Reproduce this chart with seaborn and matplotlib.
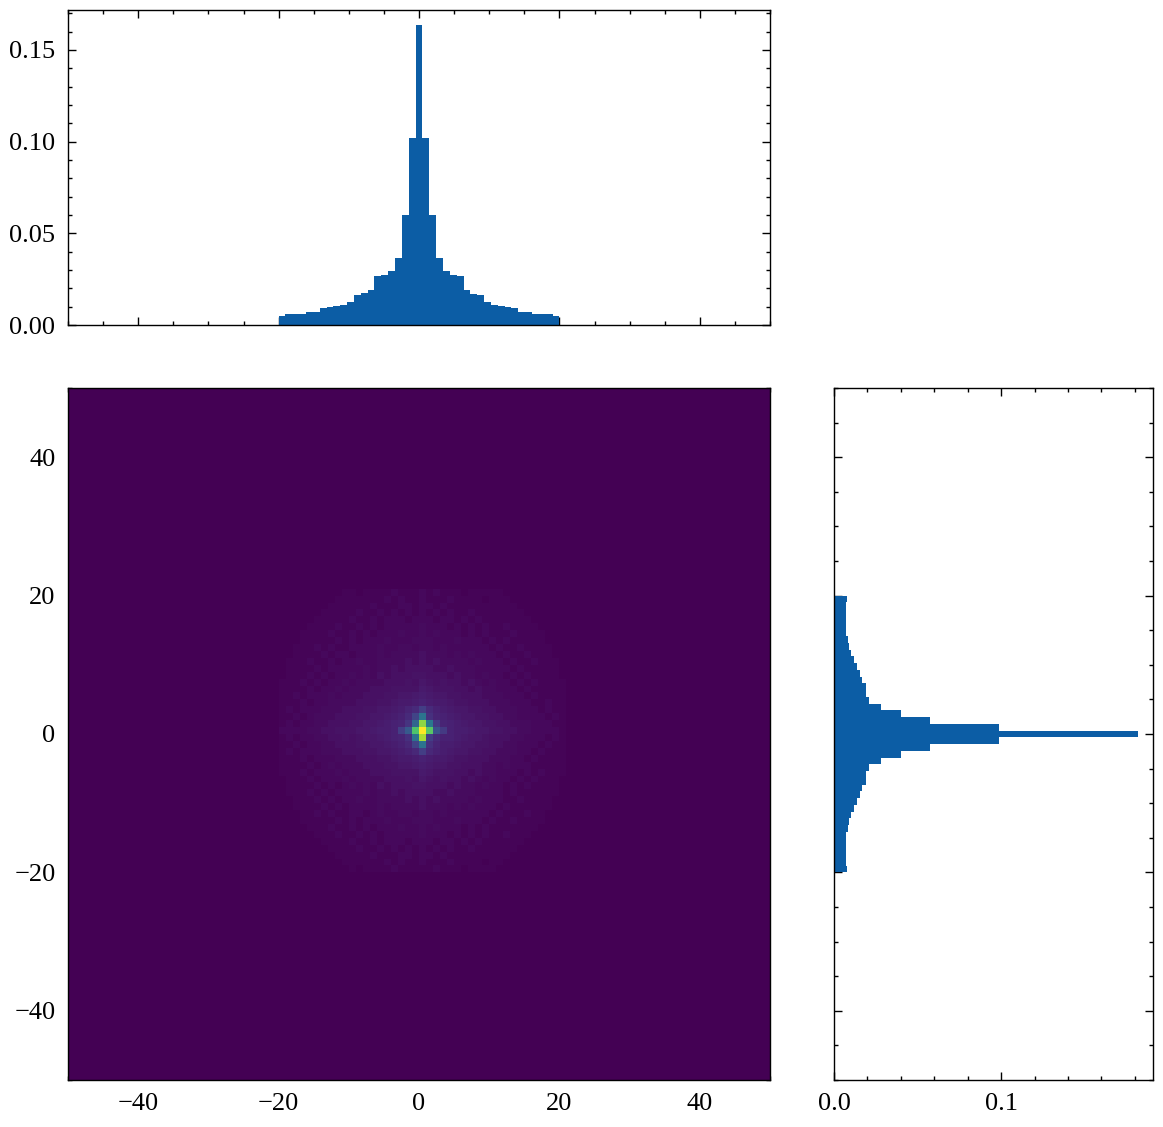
import numpy as np
import matplotlib
matplotlib.use("Agg")
import matplotlib.pyplot as plt
from matplotlib.ticker import MultipleLocator
import seaborn as sns

# integer support of both variables
values = np.arange(-20, 21)

# marginal of x (top histogram), one value per integer -20..20
top_heights = [0.0049, 0.0060, 0.0060, 0.0060, 0.0071, 0.0071, 0.0092, 0.0100, 0.0105, 0.0111,
               0.0125, 0.0163, 0.0174, 0.0190, 0.0266, 0.0272, 0.0293, 0.0364, 0.0598, 0.1022,
               0.1636,
               0.1022, 0.0598, 0.0364, 0.0293, 0.0272, 0.0266, 0.0190, 0.0168, 0.0163, 0.0125,
               0.0109, 0.0103, 0.0098, 0.0092, 0.0071, 0.0071, 0.0060, 0.0060, 0.0060, 0.0049]

# marginal of y (right histogram), -20..20
right_heights = [0.0076, 0.0070, 0.0070, 0.0070, 0.0070, 0.0070, 0.0082, 0.0088, 0.0100, 0.0118,
                 0.0136, 0.0154, 0.0166, 0.0190, 0.0190, 0.0208, 0.0279, 0.0399, 0.0573, 0.0986,
                 0.1818,
                 0.0986, 0.0573, 0.0399, 0.0279, 0.0208, 0.0190, 0.0190, 0.0166, 0.0154, 0.0136,
                 0.0118, 0.0100, 0.0088, 0.0082, 0.0070, 0.0070, 0.0070, 0.0070, 0.0070, 0.0076]

# joint counts (% of peak), rows y=20 .. -20, columns x=-20 .. 20
grid_rows = [
    "0000000001 1011112111 2 1211101111 1000000000",
    "0000000011 1111121211 2 1112111101 1100000000",
    "0000000111 1112111221 2 2121111111 1110000000",
    "0000001111 1211212121 2 1212112111 1111000000",
    "0000011111 2112122212 2 2122121211 1111100000",
    "0000111121 1212122222 3 2221212121 1211110000",
    "0001111211 2121222322 3 2322212121 1121111000",
    "0001111121 2122232223 3 3222322212 1211111000",
    "0011121211 2222322332 3 3232222221 2112111100",
    "0011112122 1222323333 4 3332323222 1211211100",
    "0111211212 2322333343 4 3433332322 2121121110",
    "0111121222 2232334344 4 4334333222 2212111110",
    "0111212122 3232434445 5 4443433232 2121211110",
    "1112121223 2333344454 6 5454434323 2212121111",
    "1111212232 3334445555 7 6555443433 2221211111",
    "1121222323 3344455667 8 7665544433 3222121111",
    "1112122333 3444556778 9 8776554443 3322211211",
    "1212223334 4455667899 9 9987665544 3332221211",
    "1121233344 4556678999 9 9998766554 4332222121",
    "1212233444 5566789999 9 9999876655 4433322211",
    "2222334455 5667889999 9 9999887665 5443322221",
    "1212233445 4566789999 9 9999876654 4433222121",
    "1121223344 4556678999 9 9998766554 4332221211",
    "1212223334 4455667899 9 9987665544 3332212111",
    "1112122233 3444556778 9 8776554443 3322121111",
    "1111212323 3344455667 8 7665544433 2322211111",
    "1112122232 3334445555 7 6555443433 2221212111",
    "0111212223 2333344454 6 5454434323 2212121110",
    "0111121212 3232434445 5 4443433232 2121211110",
    "0111212122 2232334344 4 4334333222 2121111110",
    "0011121212 2322333343 4 3433332322 2112111100",
    "0011112121 2222323333 4 3332323222 1211111100",
    "0001121211 2212322332 3 3232222221 2111211000",
    "0001111121 2122232223 3 3222322212 1121111000",
    "0000111211 2121222322 3 2322212121 1111110000",
    "0000011121 1212122222 3 2221212121 1211100000",
    "0000001111 2112122212 2 2122121211 1111000000",
    "0000000111 1211212121 2 1212112111 1110000000",
    "0000000011 1112111221 2 2121111111 1100000000",
    "0000000001 1111121211 2 1112111101 1000000000",
    "0000000000 1011112111 1 1211101111 0000000000",
]

# bright core, rows y=3 .. -3, columns x=-3 .. 3
core = [
    [8, 10, 12, 18, 12, 9, 8],
    [9, 12, 20, 38, 14, 10, 9],
    [10, 15, 33, 83, 40, 17, 10],
    [18, 28, 72, 100, 74, 25, 17],
    [10, 14, 38, 87, 18, 12, 9],
    [9, 11, 20, 38, 14, 10, 8],
    [8, 9, 11, 18, 11, 9, 8],
]

grid = np.array([[int(c) for c in r.replace(" ", "")] for r in grid_rows], dtype=float)
grid[17:24, 17:24] = core

yy = values[::-1]
gx, gy = np.meshgrid(values, yy)
df_joint = {"x": gx.ravel(), "y": gy.ravel(), "w": grid.ravel()}

sns.set_style("ticks")
plt.rcParams["font.family"] = ["Liberation Serif", "DejaVu Serif"]
plt.rcParams.update({
    "font.size": 19,
    "axes.linewidth": 1.0,
    "xtick.direction": "in", "ytick.direction": "in",
    "xtick.top": True, "ytick.right": True,
    "xtick.major.size": 6, "ytick.major.size": 6,
    "xtick.minor.size": 3, "ytick.minor.size": 3,
    "xtick.major.width": 1.0, "ytick.major.width": 1.0,
    "xtick.minor.width": 1.0, "ytick.minor.width": 1.0,
    "xtick.major.pad": 9, "ytick.major.pad": 9,
    "xtick.minor.visible": True, "ytick.minor.visible": True,
    "xtick.color": "black", "ytick.color": "black",
    "axes.edgecolor": "black",
})

bar_color = "#0C5DA5"
W, H = 1163, 1127
fig = plt.figure(figsize=(W / 100, H / 100), dpi=100)
ax_main = fig.add_axes([68 / W, 1 - 1080 / H, 702 / W, 692 / H])
ax_top = fig.add_axes([68 / W, 1 - 325 / H, 702 / W, 315 / H], sharex=ax_main)
ax_right = fig.add_axes([834 / W, 1 - 1080 / H, 319 / W, 692 / H], sharey=ax_main)

# joint histogram
sns.histplot(data=df_joint, x="x", y="y", weights="w", bins=100,
             binrange=((-50, 50), (-50, 50)), thresh=None, cmap="viridis",
             vmin=0, ax=ax_main)
ax_main.set_xlabel("")
ax_main.set_ylabel("")
ax_main.xaxis.set_major_locator(MultipleLocator(20))
ax_main.xaxis.set_minor_locator(MultipleLocator(5))
ax_main.yaxis.set_major_locator(MultipleLocator(20))
ax_main.yaxis.set_minor_locator(MultipleLocator(5))

# top marginal
sns.histplot(x=values, weights=top_heights, bins=41, binrange=(-20, 20),
             element="step", fill=True, color=bar_color, alpha=1, linewidth=0,
             ax=ax_top)
ax_top.set_ylim(bottom=0)
ax_top.set_ylabel("")
ax_top.yaxis.set_major_locator(MultipleLocator(0.05))
ax_top.yaxis.set_minor_locator(MultipleLocator(0.01))
ax_top.tick_params(axis="x", labelbottom=False)

# right marginal
sns.histplot(y=values, weights=right_heights, bins=41, binrange=(-20, 20),
             element="step", fill=True, color=bar_color, alpha=1, linewidth=0,
             ax=ax_right)
ax_right.set_xlim(left=0)
ax_right.set_xlabel("")
ax_right.xaxis.set_major_locator(MultipleLocator(0.1))
ax_right.xaxis.set_minor_locator(MultipleLocator(0.02))
ax_right.tick_params(axis="y", labelleft=False)

ax_main.set_xlim(-50, 50)
ax_main.set_ylim(-50, 50)

fig.savefig("out.png", dpi=100)
